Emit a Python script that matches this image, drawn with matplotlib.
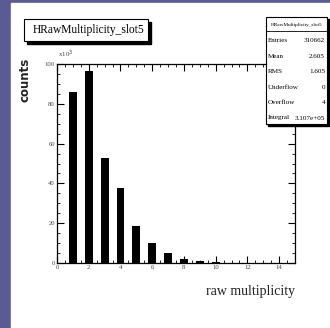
import matplotlib.pyplot as plt
from matplotlib.patches import Rectangle
from matplotlib.ticker import MultipleLocator

# bin contents (in units of 10^3 counts)
multiplicity = [1, 2, 3, 4, 5, 6, 7, 8, 9, 10, 11]
counts_k = [86.0, 96.5, 52.8, 37.7, 18.6, 10.2, 4.9, 2.0, 1.0, 0.3, 0.1]

hist_name = "HRawMultiplicity_slot5"
stat_names = ["Entries", "Mean", "RMS", "Underflow", "Overflow", "Integral"]
stat_values = ["310662", "2.605", "1.605", "0", "4", "3.107e+05"]

W, H = 330, 328
fig = plt.figure(figsize=(W / 100, H / 100), dpi=100)
fig.patch.set_facecolor("#5b5a92")


def px(x, y):
    # pixel coords (origin top-left) -> figure fraction
    return x / W, 1 - y / H


def box(x0, y0, x1, y1, shadow=2.5, lw=0.8):
    fx0, fy1 = px(x0, y1)
    fx1, fy0 = px(x1, y0)
    sx, sy = shadow / W, shadow / H
    fig.add_artist(Rectangle((fx0 + sx, fy1 - sy), fx1 - fx0, fy0 - fy1,
                             transform=fig.transFigure, color="black", zorder=5))
    fig.add_artist(Rectangle((fx0, fy1), fx1 - fx0, fy0 - fy1,
                             transform=fig.transFigure, facecolor="white",
                             edgecolor="black", lw=lw, zorder=6))


# white canvas
x0, y0 = px(11, 328)
x1, y1 = px(330, 3)
fig.add_artist(Rectangle((x0, y0), x1 - x0, y1 - y0, transform=fig.transFigure,
                         color="white", zorder=0))

l, b = px(57, 263)
r, t = px(295, 64)
ax = fig.add_axes([l, b, r - l, t - b])
ax.bar(multiplicity, counts_k, width=0.5, color="black", linewidth=0)
ax.set_xlim(0, 15)
ax.set_ylim(0, 100)

ax.xaxis.set_major_locator(MultipleLocator(2))
ax.xaxis.set_minor_locator(MultipleLocator(0.5))
ax.yaxis.set_major_locator(MultipleLocator(20))
ax.yaxis.set_minor_locator(MultipleLocator(5))
ax.tick_params(which="both", direction="in", top=True, right=True,
               labelsize=4.8, pad=1.5, colors="black", labelcolor="#444444")
ax.tick_params(which="major", length=5, width=0.8)
ax.tick_params(which="minor", length=2.5, width=0.6)
for lab in ax.get_xticklabels() + ax.get_yticklabels():
    lab.set_family("Liberation Serif")
for s in ax.spines.values():
    s.set_linewidth(0.9)

fx, fy = px(58, 60)
fig.text(fx, fy, r"x10$^{3}$", fontsize=5, family="Liberation Serif",
         ha="left", va="bottom", color="#444444")

fx, fy = px(25, 80)
fig.text(fx, fy, "counts", rotation=90, fontsize=8.5, fontweight="bold",
         ha="center", va="center", color="#222222")

fx, fy = px(295, 292)
fig.text(fx, fy, "raw multiplicity", fontsize=10, family="Liberation Serif",
         ha="right", va="center", color="#222222")

# title box
box(24, 19, 148, 41, shadow=3)
fx, fy = px(89, 30)
fig.text(fx, fy, hist_name, fontsize=8.3, family="Liberation Serif",
         ha="center", va="center", zorder=7)

# statistics box
box(266, 17, 327, 124, shadow=2)
fx, fy = px(296.5, 25)
fig.text(fx, fy, hist_name, fontsize=3.8, family="Liberation Serif",
         ha="center", va="center", zorder=7)
fa, fl = px(266, 31)
fb, _ = px(327, 31)
fig.add_artist(plt.Line2D([fa, fb], [fl, fl], transform=fig.transFigure,
                          color="black", lw=0.6, zorder=7))
for i, (name, val) in enumerate(zip(stat_names, stat_values)):
    yy = 41 + i * 15.4
    fx, fy = px(268, yy)
    fig.text(fx, fy, name, fontsize=5.1, family="Liberation Serif",
             ha="left", va="center", zorder=7)
    fx, fy = px(325, yy)
    fig.text(fx, fy, val, fontsize=5.1, family="Liberation Serif",
             ha="right", va="center", zorder=7)

fig.savefig("out.png", dpi=100)
